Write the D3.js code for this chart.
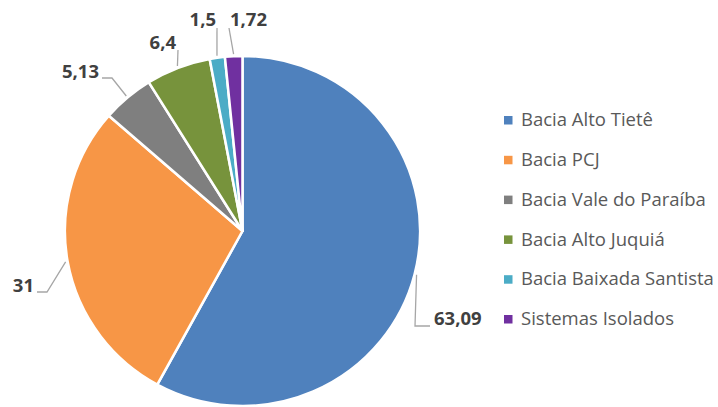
<!DOCTYPE html>
<html>
<head>
<meta charset="utf-8">
<script src="https://cdn.jsdelivr.net/npm/d3@7"></script>
<style>
  body { margin: 0; background: #fff; }
  svg { display: block; }
</style>
</head>
<body>
<div id="scene"></div>
<script>
var categories = ["Bacia Alto Tietê", "Bacia PCJ", "Bacia Vale do Paraíba",
                  "Bacia Alto Juquiá", "Bacia Baixada Santista", "Sistemas Isolados"];
var values = [63.09, 31, 5.13, 6.4, 1.5, 1.72];
var valueLabels = ["63,09", "31", "5,13", "6,4", "1,5", "1,72"];
var colors = ["#4f81bd", "#f79646", "#7f7f7f", "#77933c", "#4bacc6", "#7030a0"];

var ctx = {
  w: 718,
  h: 407,
  cx: 242.5,
  cy: 231,
  r: 175,
  sx: 1.015
};

// label text position, anchor, and leader elbow/end points (page coords)
var labelLayout = [
  {tx: 434, ty: 319, anchor: "start", pts: [[415, 326], [430, 326]]},
  {tx: 34, ty: 286, anchor: "end", pts: [[47, 292], [37, 292]]},
  {tx: 99, ty: 72, anchor: "end", pts: [[112, 78], [102, 78]]},
  {tx: 176, ty: 43, anchor: "end", pts: [[178, 50]]},
  {tx: 216, ty: 20, anchor: "end", pts: [[217, 28]]},
  {tx: 230, ty: 20, anchor: "start", pts: [[229, 28]]}
];

var svg = d3.select("#scene").append("svg")
  .attr("width", ctx.w)
  .attr("height", ctx.h);

var data = categories.map(function(c, i) { return {name: c, value: values[i], i: i}; });

var pie = d3.pie().sort(null).value(function(d) { return d.value; });
var arcs = pie(data);
var arc = d3.arc().innerRadius(0).outerRadius(ctx.r);

var g = svg.append("g")
  .attr("transform", "translate(" + ctx.cx + "," + ctx.cy + ") scale(" + ctx.sx + ",1)");

g.selectAll("path.slice")
  .data(arcs)
  .enter()
  .append("path")
  .attr("class", "slice")
  .attr("d", arc)
  .attr("fill", function(d) { return colors[d.data.i]; })
  .attr("stroke", "#fff")
  .attr("stroke-width", 2.5)
  .attr("stroke-linejoin", "round");

// leader lines start on the slice edge at its mid angle
var edge = function(d) {
  var a = (d.startAngle + d.endAngle) / 2;
  return [ctx.cx + Math.sin(a) * (ctx.r + 2) * ctx.sx, ctx.cy - Math.cos(a) * (ctx.r + 2)];
};

var lines = svg.append("g");
arcs.forEach(function(d, i) {
  var pts = [edge(d)].concat(labelLayout[i].pts);
  lines.append("path")
    .attr("d", d3.line()(pts))
    .attr("fill", "none")
    .attr("stroke", "#a6a6a6")
    .attr("stroke-width", 1.3);
  svg.append("text")
    .attr("x", labelLayout[i].tx)
    .attr("y", labelLayout[i].ty)
    .attr("dy", "0.35em")
    .attr("text-anchor", labelLayout[i].anchor)
    .style("font-family", "'Open Sans', sans-serif")
    .style("font-weight", "700")
    .style("font-size", "18.5px")
    .attr("fill", "#404040")
    .text(valueLabels[i]);
});

// legend
var legendY = d3.scalePoint().domain(categories).range([120, 319]);
var legend = svg.append("g");
var items = legend.selectAll("g")
  .data(categories)
  .enter()
  .append("g")
  .attr("transform", function(d) { return "translate(504," + legendY(d) + ")"; });

items.append("rect")
  .attr("x", 0)
  .attr("y", -4)
  .attr("width", 8.5)
  .attr("height", 8.5)
  .attr("fill", function(d, i) { return colors[i]; });

items.append("text")
  .attr("x", 17)
  .attr("y", 0)
  .attr("dy", "0.33em")
  .style("font-family", "'Open Sans', sans-serif")
  .style("font-size", "18.5px")
  .attr("fill", "#595959")
  .text(function(d) { return d; });
</script>
</body>
</html>
